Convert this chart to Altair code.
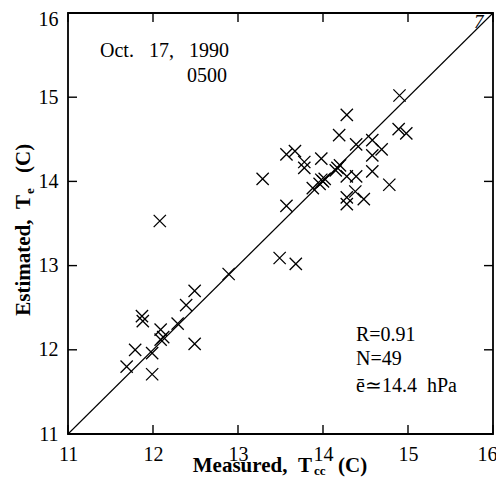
import altair as alt
import pandas as pd

# Measured T_cc (x) and estimated T_e (y), degrees C
measured = [14.90, 14.28, 14.19, 14.39, 14.58, 14.89, 14.98, 14.69, 14.58, 14.58,
            14.78, 13.57, 13.67, 13.78, 13.78, 13.98, 14.17, 14.20, 13.98, 14.00,
            13.96, 13.88, 14.28, 14.39, 14.38, 14.48, 14.28, 14.28, 13.57, 13.29,
            13.49, 13.68, 12.08, 12.89, 12.49, 12.39, 12.29, 12.09, 12.09, 12.49,
            11.87, 11.88, 11.79, 11.99, 11.69, 11.99, 14.02, 14.15, 12.12]
estimated = [15.02, 14.79, 14.55, 14.44, 14.49, 14.62, 14.57, 14.38, 14.31, 14.12,
             13.96, 14.32, 14.36, 14.23, 14.16, 14.27, 14.16, 14.19, 14.02, 14.00,
             13.97, 13.92, 14.06, 14.06, 13.88, 13.79, 13.81, 13.73, 13.71, 14.03,
             13.09, 13.02, 13.53, 12.90, 12.70, 12.53, 12.31, 12.24, 12.12, 12.07,
             12.40, 12.34, 12.00, 11.96, 11.80, 11.71, 14.03, 14.13, 12.15]

line_x = [11, 16]
line_y = [11, 16]
tick_values = [11, 12, 13, 14, 15, 16]

W, H = 425, 421
TICK = 9
FONT = "Liberation Serif"
SP = "\u00a0"

pts = pd.DataFrame({"x": measured, "y": estimated})
line_df = pd.DataFrame({"x": line_x, "y": line_y})
ticks_df = pd.DataFrame({"v": tick_values})

xscale = alt.Scale(domain=[11, 16], nice=False, zero=False)
yscale = alt.Scale(domain=[11, 16], nice=False, zero=False)

xaxis = alt.Axis(values=tick_values, ticks=False, domain=False, grid=False, title=None,
                 labelFont=FONT, labelFontSize=20, labelColor="black", labelPadding=10,
                 labelFlush=False, labelOverlap=False, format="d",
                 labelOffset={"condition": {"test": "datum.value == 16", "value": -6}, "value": 0})
yaxis = alt.Axis(values=tick_values, ticks=False, domain=False, grid=False, title=None,
                 labelFont=FONT, labelFontSize=20, labelColor="black", labelPadding=10,
                 labelFlush=False, labelOverlap=False, format="d",
                 labelOffset={"condition": {"test": "datum.value == 16", "value": 6}, "value": 0})

X_PATH = "M-1,-1L1,1M-1,1L1,-1"

points = alt.Chart(pts).mark_point(shape=X_PATH, size=150, filled=False,
                                   stroke="black", strokeWidth=1.3, opacity=1).encode(
    x=alt.X("x:Q", scale=xscale, axis=xaxis),
    y=alt.Y("y:Q", scale=yscale, axis=yaxis),
)

line = alt.Chart(line_df).mark_line(color="black", strokeWidth=1.1).encode(
    x=alt.X("x:Q", scale=xscale),
    y=alt.Y("y:Q", scale=yscale),
)

tick_bottom = alt.Chart(ticks_df).mark_rule(color="black", strokeWidth=1.4).encode(
    x=alt.X("v:Q", scale=xscale), y=alt.value(H), y2=alt.value(H - TICK))
tick_top = alt.Chart(ticks_df).mark_rule(color="black", strokeWidth=1.4).encode(
    x=alt.X("v:Q", scale=xscale), y=alt.value(0), y2=alt.value(TICK))
tick_left = alt.Chart(ticks_df).mark_rule(color="black", strokeWidth=1.4).encode(
    y=alt.Y("v:Q", scale=yscale), x=alt.value(0), x2=alt.value(TICK))
tick_right = alt.Chart(ticks_df).mark_rule(color="black", strokeWidth=1.4).encode(
    y=alt.Y("v:Q", scale=yscale), x=alt.value(W), x2=alt.value(W - TICK))


def txt(s, x, y, size=20, align="left", weight="normal", angle=0, style="normal"):
    return alt.Chart(pd.DataFrame({"t": [s]})).mark_text(
        font=FONT, fontSize=size, align=align, baseline="alphabetic",
        fontWeight=weight, angle=angle, fontStyle=style, color="black"
    ).encode(text="t:N", x=alt.value(x), y=alt.value(y))


annotations = [
    txt("Oct." + SP * 3 + "17," + SP * 3 + "1990", 32, 44),
    txt("0500", 159, 69, align="right"),
    txt("R=0.91", 288, 328),
    txt("N=49", 288, 352),
    txt("ē≃14.4" + SP * 2 + "hPa", 288, 379),
    txt("7", 406, 15, size=19, style="italic"),
    # x title: Measured, T_cc (C)
    txt("Measured," + SP * 2 + "T", 244, 459, size=21, align="right", weight="bold"),
    txt("cc", 246, 462, size=13, weight="bold"),
    txt("(C)", 270, 459, size=21, weight="bold"),
    # y title: Estimated, T_e (C)
    txt("Estimated," + SP * 2 + "T", -38, 182, size=21, align="right", weight="bold", angle=270),
    txt("e", -34, 181, size=13, align="left", weight="bold", angle=270),
    txt("(C)", -38, 160, size=21, align="left", weight="bold", angle=270),
]

chart = alt.layer(
    line, points, tick_bottom, tick_top, tick_left, tick_right, *annotations
).properties(
    width=W, height=H,
    autosize=alt.AutoSizeParams(type="none"),
    padding={"left": 60, "top": 5, "right": 3, "bottom": 45},
).configure_view(stroke="black", strokeWidth=1.8)

chart.save("out.html", embed_options={"renderer": "svg", "actions": False})
